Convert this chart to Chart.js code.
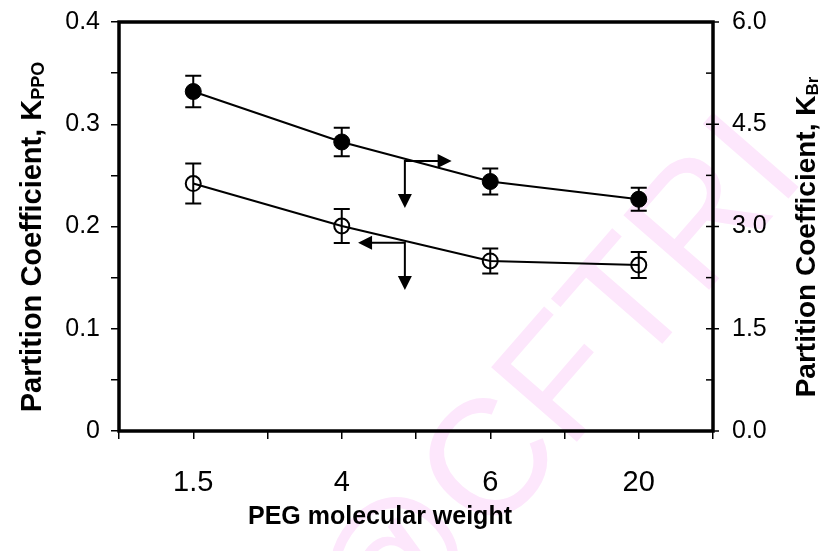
<!DOCTYPE html>
<html>
<head>
<meta charset="utf-8">
<script src="https://cdn.jsdelivr.net/npm/chart.js@4.4.1/dist/chart.umd.min.js"></script>
<style>
  html, body { margin: 0; padding: 0; background: #fff; }
</style>
</head>
<body>
<canvas id="PartitionChart" width="823" height="551"></canvas>
<script>
// PEG molecular weight categories, placed at odd positions of a 0..8 axis
var pegLabels = ["1.5", "4", "6", "20"];
var pegPos = [1, 3, 5, 7];

// K_Br - right axis, filled circles
var kBr = [4.98, 4.24, 3.66, 3.40];
var kBrErr = [0.23, 0.21, 0.19, 0.17];

// K_PPO - left axis, open circles
var kPpo = [0.242, 0.2005, 0.1663, 0.1623];
var kPpoErr = [0.0195, 0.0166, 0.0122, 0.0127];

// axis tick values that carry a label
var leftTickLabels = [0, 0.1, 0.2, 0.3, 0.4];
var rightTickLabels = [0, 1.5, 3.0, 4.5, 6.0];

// arrows telling which axis each curve belongs to (x on 0..8 axis, y on left axis)
var arrows = [
    { x: 3.85, y: 0.264, toX: 4.48, toY: 0.218 },
    { x: 3.85, y: 0.184, toX: 3.22, toY: 0.138 }
];

var FONT = "'Liberation Sans', Arial, sans-serif";

function toPoints(xs, ys) {
    return xs.map(function (x, i) { return { x: x, y: ys[i] }; });
}

function hasLabel(list, v) {
    return list.some(function (t) { return Math.abs(t - v) < 1e-6; });
}

// fixed box sizes so the plot frame lands where it should
function fixWidth(w) {
    return function (s) {
        s.width = w;
        s.paddingTop = 0;
        s.paddingBottom = 0;
    };
}

// title with a smaller subscript part
function drawTitle(ctx, main, sub, size) {
    ctx.font = "bold " + size + "px " + FONT;
    var w1 = ctx.measureText(main).width;
    var subSize = Math.round(size * 0.62);
    ctx.font = "bold " + subSize + "px " + FONT;
    var w2 = sub ? ctx.measureText(sub).width : 0;
    var start = -(w1 + w2) / 2;
    ctx.textAlign = "left";
    ctx.textBaseline = "alphabetic";
    ctx.font = "bold " + size + "px " + FONT;
    ctx.fillText(main, start, 0);
    if (sub) {
        ctx.font = "bold " + subSize + "px " + FONT;
        ctx.fillText(sub, start + w1, size * 0.12);
    }
}

function arrowHead(ctx, x, y, dir) {
    var len = 14, half = 7;
    ctx.beginPath();
    if (dir === "right") { ctx.moveTo(x, y); ctx.lineTo(x - len, y - half); ctx.lineTo(x - len, y + half); }
    if (dir === "left") { ctx.moveTo(x, y); ctx.lineTo(x + len, y - half); ctx.lineTo(x + len, y + half); }
    if (dir === "down") { ctx.moveTo(x, y); ctx.lineTo(x - half, y - len); ctx.lineTo(x + half, y - len); }
    ctx.closePath();
    ctx.fill();
}

var decor = {
    id: "decor",
    beforeDraw: function (chart) {
        var ctx = chart.ctx;
        ctx.save();
        ctx.fillStyle = "#fff";
        ctx.fillRect(0, 0, chart.width, chart.height);
        // watermark
        ctx.translate(560, 392);
        ctx.rotate(-49 * Math.PI / 180);
        ctx.fillStyle = "#fde7fc";
        ctx.font = "165px " + FONT;
        ctx.textAlign = "center";
        ctx.textBaseline = "middle";
        ctx.fillText("@CFTRI", 0, 0);
        ctx.restore();
    },
    beforeDatasetsDraw: function (chart) {
        // error bars, under the markers
        var ctx = chart.ctx, xs = chart.scales.x;
        var sets = [
            { vals: kBr, err: kBrErr, scale: chart.scales.y2 },
            { vals: kPpo, err: kPpoErr, scale: chart.scales.y }
        ];
        ctx.save();
        ctx.strokeStyle = "#000";
        ctx.lineWidth = 2;
        sets.forEach(function (s) {
            s.vals.forEach(function (v, i) {
                var px = xs.getPixelForValue(pegPos[i]);
                var top = s.scale.getPixelForValue(v + s.err[i]);
                var bot = s.scale.getPixelForValue(v - s.err[i]);
                ctx.beginPath();
                ctx.moveTo(px, top); ctx.lineTo(px, bot);
                ctx.moveTo(px - 8, top); ctx.lineTo(px + 8, top);
                ctx.moveTo(px - 8, bot); ctx.lineTo(px + 8, bot);
                ctx.stroke();
            });
        });
        ctx.restore();
    },
    afterDraw: function (chart) {
        var ctx = chart.ctx, a = chart.chartArea;
        var xs = chart.scales.x, ys = chart.scales.y, y2 = chart.scales.y2;
        ctx.save();
        // right axis ticks point into the plot, labelled ones cross the axis
        ctx.strokeStyle = "#000";
        ctx.lineWidth = 1.5;
        y2.ticks.forEach(function (t) {
            var py = y2.getPixelForValue(t.value);
            ctx.beginPath();
            ctx.moveTo(a.right - 7, py);
            ctx.lineTo(a.right + (hasLabel(rightTickLabels, t.value) ? 6 : 0), py);
            ctx.stroke();
        });

        // frame
        ctx.lineWidth = 3.5;
        ctx.strokeRect(a.left, a.top, a.right - a.left, a.bottom - a.top);

        // axis arrows
        ctx.fillStyle = "#000";
        ctx.lineWidth = 2;
        arrows.forEach(function (ar) {
            var x0 = xs.getPixelForValue(ar.x), y0 = ys.getPixelForValue(ar.y);
            var x1 = xs.getPixelForValue(ar.toX), y1 = ys.getPixelForValue(ar.toY);
            ctx.beginPath();
            ctx.moveTo(x1 + (x1 > x0 ? -12 : 12), y0); ctx.lineTo(x0, y0); ctx.lineTo(x0, y1 - 12);
            ctx.stroke();
            arrowHead(ctx, x1, y0, x1 > x0 ? "right" : "left");
            arrowHead(ctx, x0, y1, "down");
        });

        // axis titles
        ctx.fillStyle = "#000";
        ctx.save();
        ctx.translate(41, 237);
        ctx.rotate(-Math.PI / 2);
        drawTitle(ctx, "Partition Coefficient, K", "PPO", 29);
        ctx.restore();

        ctx.save();
        ctx.translate(815, 237);
        ctx.rotate(-Math.PI / 2);
        drawTitle(ctx, "Partition Coefficient, K", "Br", 28);
        ctx.restore();

        ctx.save();
        ctx.translate(380, 524);
        drawTitle(ctx, "PEG molecular weight", "", 25);
        ctx.restore();
        ctx.restore();
    }
};

new Chart(document.getElementById("PartitionChart"), {
    type: "scatter",
    data: {
        datasets: [{
            label: "K_Br",
            data: toPoints(pegPos, kBr),
            yAxisID: "y2",
            showLine: true,
            borderColor: "#000",
            borderWidth: 2,
            backgroundColor: "#000",
            pointRadius: 8,
            pointBorderWidth: 1,
            pointBorderColor: "#000",
            pointBackgroundColor: "#000"
        }, {
            label: "K_PPO",
            data: toPoints(pegPos, kPpo),
            yAxisID: "y",
            showLine: true,
            borderColor: "#000",
            borderWidth: 2,
            pointRadius: 7.5,
            pointBorderWidth: 2,
            pointBorderColor: "#000",
            pointBackgroundColor: "rgba(0,0,0,0)"
        }]
    },
    options: {
        responsive: false,
        animation: false,
        devicePixelRatio: 1,
        layout: { padding: { top: 22, left: 0, right: 0, bottom: 0 } },
        plugins: { legend: { display: false }, tooltip: { enabled: false } },
        scales: {
            x: {
                type: "linear",
                min: 0,
                max: 8,
                afterFit: function (s) {
                    s.height = 120;
                    s.paddingLeft = 0;
                    s.paddingRight = 0;
                },
                border: { display: false },
                grid: { drawOnChartArea: false, drawTicks: true, tickLength: 8, color: "#000", lineWidth: 1.5 },
                ticks: {
                    stepSize: 1,
                    autoSkip: false,
                    maxRotation: 0,
                    padding: 27,
                    color: "#000",
                    font: { family: FONT, size: 29 },
                    callback: function (v) {
                        var i = pegPos.indexOf(v);
                        return i >= 0 ? pegLabels[i] : "";
                    }
                }
            },
            y: {
                position: "left",
                min: 0,
                max: 0.4,
                afterFit: fixWidth(119),
                border: { display: false },
                grid: { drawOnChartArea: false, drawTicks: true, tickLength: 8, color: "#000", lineWidth: 1.5 },
                ticks: {
                    stepSize: 0.05,
                    autoSkip: false,
                    padding: 11,
                    color: "#000",
                    font: { family: FONT, size: 25 },
                    callback: function (v) {
                        if (!hasLabel(leftTickLabels, v)) return "";
                        return v === 0 ? "0" : v.toFixed(1);
                    }
                }
            },
            y2: {
                position: "right",
                min: 0,
                max: 6,
                afterFit: fixWidth(110),
                border: { display: false },
                grid: { drawOnChartArea: false, drawTicks: false },
                ticks: {
                    stepSize: 0.75,
                    autoSkip: false,
                    padding: 19,
                    color: "#000",
                    font: { family: FONT, size: 25 },
                    callback: function (v) {
                        return hasLabel(rightTickLabels, v) ? v.toFixed(1) : "";
                    }
                }
            }
        }
    },
    plugins: [decor]
});
</script>
</body>
</html>
